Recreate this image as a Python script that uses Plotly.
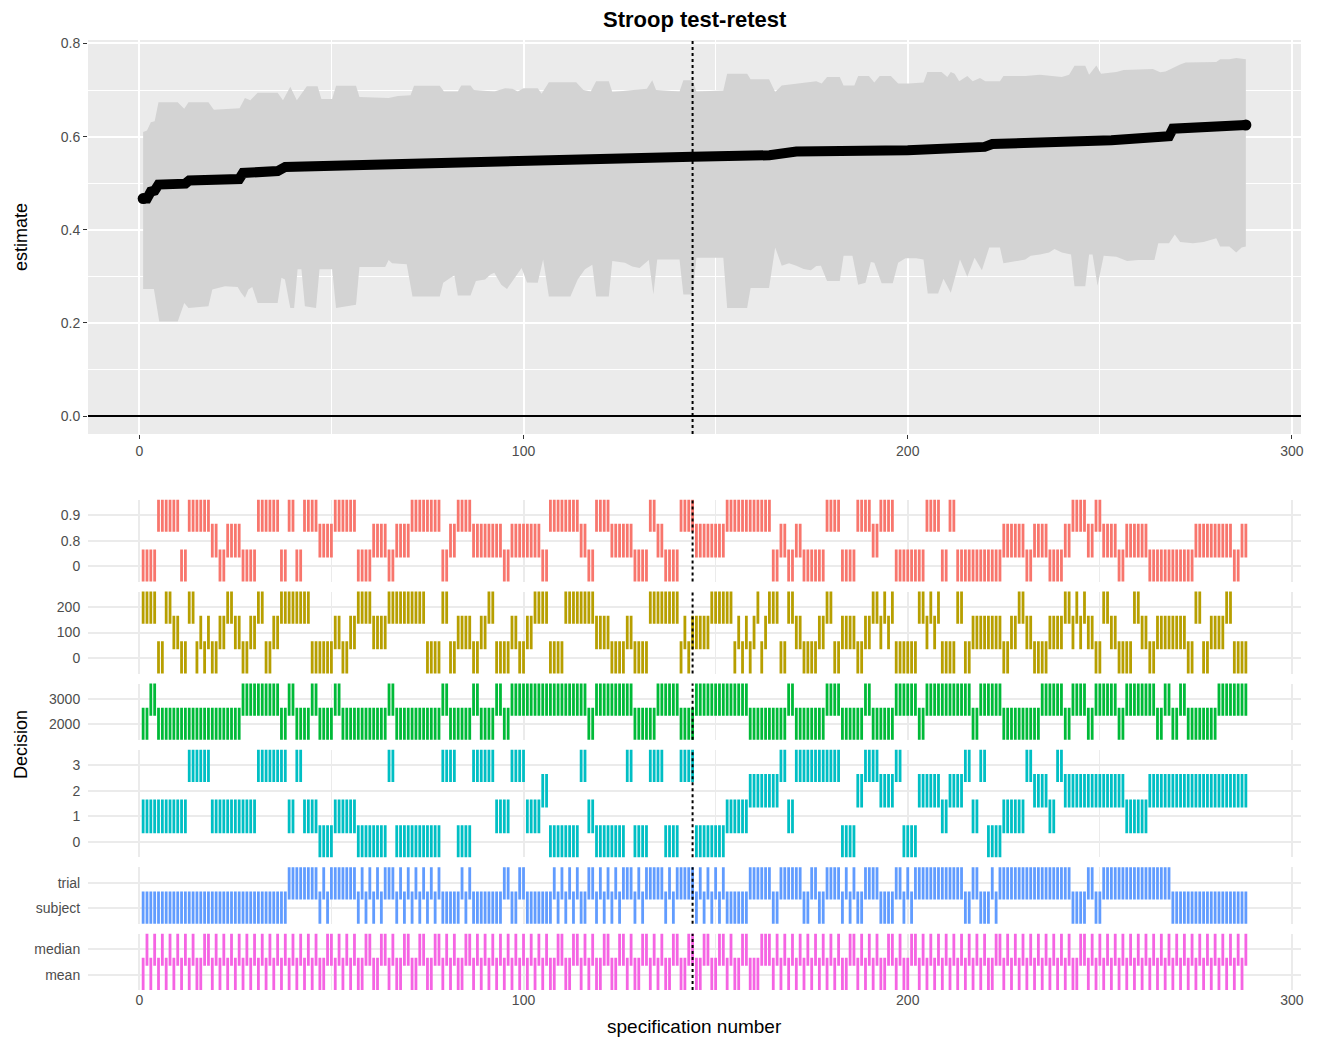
import plotly.graph_objects as go

# ---------------- data ----------------
SPEC_N = 288
DIVIDER_SPEC = 144.0

# estimate (sorted) at the spec numbers where the curve changes slope
est_spec = [1, 2, 3, 4, 5, 12, 13, 26, 27, 36, 38, 56, 58, 75, 92, 102, 130, 144,
            164, 171, 200, 212, 220, 222, 236, 253, 266, 268, 269, 280, 282, 288]
est_val = [0.467, 0.467, 0.482, 0.484, 0.497, 0.499, 0.506, 0.509, 0.522, 0.526,
           0.535, 0.539, 0.543, 0.545, 0.548, 0.551, 0.555, 0.557, 0.560, 0.568,
           0.571, 0.574, 0.578, 0.584, 0.586, 0.592, 0.600, 0.601, 0.617, 0.621,
           0.625, 0.625]

# confidence band, upper edge
upper_spec = [1, 2, 3, 4, 5, 10, 11.7, 12.8, 18, 19.4, 26.1, 27.5, 28.9, 30.8, 36, 37.4,
              39.3, 41, 43.6, 46.4, 47.4, 50.2, 51.2, 56.4, 57.3, 64.9, 67.3, 70.6, 71.5,
              78.2, 79.3, 82.9, 83.8, 86.2, 87.1, 92.4, 95.2, 97.1, 98.5, 100, 103.7,
              104.7, 106.6, 113.7, 115.6, 117.5, 118.9, 122.2, 123.1, 130.2, 132.1, 133.5,
              134.5, 140.6, 141.6, 144, 145, 152, 153, 158.2, 159.1, 163.9, 165.5, 167.2,
              171.9, 176.2, 177.6, 179, 182.3, 183.3, 186.1, 187.1, 189.9, 191.3, 192.7,
              195.6, 197.5, 200.3, 204.1, 205.1, 208.8, 210.3, 211.2, 212.2, 213.4, 215.5,
              216.9, 218.8, 220.2, 224, 224.9, 230.6, 234.4, 238.2, 240.1, 242, 243.4,
              246.2, 247.2, 249.1, 250.3, 254.3, 256.2, 263.8, 265.7, 267.1, 269, 270.9,
              272.3, 280.3, 281.3, 283.7, 285.5, 288]
upper_val = [0.610, 0.613, 0.631, 0.633, 0.674, 0.674, 0.660, 0.674, 0.674, 0.658, 0.661,
             0.683, 0.678, 0.694, 0.694, 0.678, 0.707, 0.678, 0.708, 0.708, 0.681, 0.681,
             0.709, 0.709, 0.685, 0.683, 0.687, 0.689, 0.709, 0.709, 0.697, 0.697, 0.710,
             0.710, 0.700, 0.697, 0.704, 0.703, 0.697, 0.704, 0.704, 0.692, 0.717, 0.717,
             0.700, 0.697, 0.719, 0.719, 0.696, 0.702, 0.703, 0.721, 0.700, 0.697, 0.721,
             0.721, 0.697, 0.699, 0.735, 0.735, 0.723, 0.723, 0.696, 0.710, 0.714, 0.719,
             0.714, 0.728, 0.728, 0.710, 0.710, 0.730, 0.730, 0.716, 0.730, 0.730, 0.714,
             0.714, 0.716, 0.739, 0.739, 0.728, 0.739, 0.735, 0.719, 0.730, 0.719, 0.726,
             0.719, 0.719, 0.730, 0.730, 0.733, 0.730, 0.728, 0.733, 0.752, 0.752, 0.733,
             0.753, 0.735, 0.739, 0.743, 0.745, 0.738, 0.740, 0.748, 0.755, 0.759, 0.760,
             0.766, 0.766, 0.769, 0.766]

# confidence band, lower edge
lower_spec = [1, 3.8, 5.2, 10, 11.7, 12.8, 18, 19, 22.3, 25.6, 26.5, 27.5, 28.4, 29.4, 30.8,
              36, 37, 37.9, 39.3, 40.3, 41.2, 42.2, 43.1, 46, 46.9, 50.2, 51.2, 56.4, 57.3,
              64, 64.9, 65.8, 69.6, 71.1, 78.2, 79.1, 81, 82, 82.9, 86.2, 87.6, 90, 91.4,
              92.4, 94.2, 95.7, 97.1, 99.5, 100.9, 103.7, 105.1, 106.6, 112.2, 114.1, 116,
              117.9, 118.9, 122.2, 123.1, 126.4, 128.3, 130.2, 132.6, 133.8, 134.8, 140.6,
              141.6, 144, 145, 152, 153, 158.2, 159.1, 163.9, 165.5, 167.2, 169.1, 171,
              172.9, 174.8, 176.2, 177.4, 179, 182.3, 183.3, 185.6, 187.1, 189, 190.4,
              191.3, 193.2, 196.1, 197.5, 199.4, 202.2, 204.1, 205.2, 207.9, 209.3, 211.2,
              213.6, 215.5, 217.4, 219.3, 221.2, 224, 224.9, 226.8, 230.6, 232, 234.4,
              236.8, 238.2, 240.1, 242.5, 243.4, 246.2, 247.2, 248.1, 249.4, 251, 254.3,
              257.1, 260, 264.2, 265.2, 268, 269.5, 270.9, 274.2, 277, 280.3, 281.3, 283.7,
              285.5, 286.9, 288]
lower_val = [0.273, 0.273, 0.203, 0.203, 0.243, 0.232, 0.236, 0.272, 0.279, 0.277, 0.265,
             0.254, 0.272, 0.277, 0.243, 0.243, 0.297, 0.293, 0.232, 0.232, 0.315, 0.315,
             0.236, 0.232, 0.315, 0.315, 0.232, 0.239, 0.320, 0.320, 0.335, 0.328, 0.326,
             0.257, 0.257, 0.286, 0.297, 0.302, 0.259, 0.259, 0.290, 0.293, 0.304, 0.308,
             0.282, 0.273, 0.290, 0.318, 0.287, 0.286, 0.336, 0.257, 0.257, 0.293, 0.315,
             0.325, 0.257, 0.257, 0.333, 0.329, 0.321, 0.318, 0.335, 0.261, 0.336, 0.336,
             0.261, 0.261, 0.340, 0.340, 0.232, 0.232, 0.275, 0.275, 0.362, 0.323, 0.328,
             0.323, 0.316, 0.313, 0.322, 0.323, 0.290, 0.290, 0.344, 0.344, 0.282, 0.286,
             0.331, 0.329, 0.285, 0.285, 0.329, 0.339, 0.339, 0.336, 0.263, 0.263, 0.295,
             0.265, 0.336, 0.299, 0.340, 0.313, 0.362, 0.362, 0.328, 0.331, 0.336, 0.344,
             0.347, 0.351, 0.359, 0.351, 0.347, 0.279, 0.279, 0.347, 0.347, 0.280, 0.344,
             0.342, 0.333, 0.335, 0.335, 0.371, 0.371, 0.390, 0.374, 0.371, 0.374, 0.382,
             0.364, 0.364, 0.351, 0.362, 0.364]

# decision panels: level labels (bottom to top) and runs of (level index, number of specs)
rt_cut_levels = ["0", "0.8", "0.9"]
rt_cut_runs = [(0, 4), (2, 6), (0, 2), (2, 6), (1, 2), (0, 2), (1, 4), (0, 4), (2, 6), (0, 2),
               (2, 2), (0, 2), (2, 4), (1, 4), (2, 6), (0, 4), (1, 4), (0, 2), (1, 4), (2, 8),
               (0, 2), (1, 2), (2, 4), (1, 8), (0, 2), (1, 8), (0, 2), (2, 8), (1, 2), (0, 2),
               (2, 4), (1, 6), (0, 4), (2, 2), (1, 2), (0, 4), (2, 4), (1, 8), (2, 12), (0, 2),
               (1, 2), (0, 2), (1, 2), (0, 6), (2, 4), (0, 4), (2, 4), (1, 2), (2, 4), (0, 8),
               (2, 4), (0, 2), (2, 2), (0, 12), (1, 6), (0, 2), (1, 4), (0, 4), (1, 2), (2, 4),
               (1, 2), (2, 2), (1, 4), (0, 2), (1, 6), (0, 12), (1, 10), (0, 2), (1, 2)]

min_rt_levels = ["0", "100", "200"]
min_rt_runs = [(2, 4), (0, 2), (2, 2), (1, 2), (0, 2), (2, 2), (0, 1), (1, 1), (0, 1), (1, 1),
               (0, 2), (1, 2), (2, 2), (1, 2), (0, 2), (1, 2), (2, 2), (0, 2), (1, 2), (2, 8),
               (0, 6), (1, 2), (0, 2), (1, 2), (2, 4), (1, 4), (2, 10), (0, 4), (2, 2), (0, 2),
               (1, 4), (0, 2), (1, 2), (2, 2), (0, 4), (1, 2), (0, 2), (1, 2), (2, 4), (0, 4),
               (2, 8), (1, 4), (0, 4), (1, 2), (0, 4), (2, 8), (0, 1), (1, 1), (0, 1), (1, 5),
               (2, 6), (0, 1), (1, 1), (0, 1), (1, 1), (0, 1), (1, 1), (2, 1), (0, 1), (1, 1),
               (2, 3), (0, 2), (2, 2), (1, 2), (0, 4), (1, 2), (2, 2), (0, 2), (1, 4), (0, 2),
               (1, 2), (2, 2), (1, 1), (2, 1), (1, 1), (2, 1), (0, 6), (2, 2), (1, 1), (2, 1),
               (1, 1), (2, 1), (0, 4), (2, 2), (0, 2), (1, 8), (0, 2), (1, 2), (2, 2), (1, 2),
               (0, 4), (1, 4), (2, 2), (1, 1), (2, 1), (1, 1), (2, 1), (1, 2), (0, 2), (2, 2),
               (1, 2), (0, 4), (2, 2), (1, 2), (0, 2), (1, 8), (0, 2), (2, 2), (0, 2), (1, 4),
               (2, 2), (0, 4)]

max_rt_levels = ["2000", "3000"]
max_rt_runs = [(0, 2), (1, 2), (0, 22), (1, 10), (0, 2), (1, 2), (0, 4), (1, 2), (0, 4), (1, 2),
               (0, 12), (1, 2), (0, 12), (1, 2), (0, 6), (1, 2), (0, 4), (1, 2), (0, 2), (1, 20),
               (0, 2), (1, 10), (0, 6), (1, 6), (0, 4), (1, 14), (0, 10), (1, 2), (0, 8), (1, 4),
               (0, 6), (1, 2), (0, 6), (1, 6), (0, 2), (1, 12), (0, 2), (1, 6), (0, 10), (1, 6),
               (0, 2), (1, 4), (0, 2), (1, 6), (0, 2), (1, 8), (0, 2), (1, 2), (0, 2), (1, 2),
               (0, 8), (1, 8)]

sd_levels = ["0", "1", "2", "3"]
sd_runs = [(1, 12), (3, 6), (1, 12), (3, 8), (1, 2), (3, 2), (1, 4), (0, 4), (1, 6), (0, 8),
           (3, 2), (0, 12), (3, 4), (0, 4), (3, 6), (1, 4), (3, 4), (1, 4), (2, 2), (0, 8),
           (3, 2), (1, 2), (0, 8), (3, 2), (0, 4), (3, 4), (0, 4), (3, 4), (0, 8), (1, 6),
           (2, 8), (3, 2), (1, 2), (3, 12), (0, 4), (2, 2), (3, 4), (2, 4), (3, 2), (0, 4),
           (2, 6), (1, 2), (2, 4), (3, 2), (1, 2), (3, 2), (0, 4), (1, 6), (3, 2), (2, 4),
           (1, 2), (3, 2), (2, 16), (1, 6), (2, 26)]

level_levels = ["subject", "trial"]
level_runs = [(0, 38), (1, 8), (0, 1), (1, 1), (0, 1), (1, 7), (0, 1), (1, 1), (0, 1), (1, 1),
              (0, 1), (1, 1), (0, 1), (1, 3), (0, 1), (1, 1), (0, 1), (1, 1), (0, 1), (1, 1),
              (0, 1), (1, 1), (0, 1), (1, 1), (0, 1), (1, 1), (0, 5), (1, 1), (0, 1), (1, 1),
              (0, 8), (1, 2), (0, 2), (1, 2), (0, 7), (1, 1), (0, 1), (1, 1), (0, 1), (1, 1),
              (0, 1), (1, 1), (0, 2), (1, 2), (0, 1), (1, 1), (0, 1), (1, 1), (0, 1), (1, 1),
              (0, 1), (1, 3), (0, 1), (1, 1), (0, 1), (1, 5), (0, 1), (1, 1), (0, 1), (1, 5),
              (0, 1), (1, 1), (0, 1), (1, 1), (0, 1), (1, 1), (0, 1), (1, 1), (0, 6), (1, 6),
              (0, 2), (1, 6), (0, 2), (1, 2), (0, 2), (1, 4), (0, 1), (1, 1), (0, 1), (1, 1),
              (0, 2), (1, 4), (0, 4), (1, 2), (0, 1), (1, 1), (0, 1), (1, 13), (0, 2), (1, 2),
              (0, 3), (1, 1), (0, 1), (1, 19), (0, 4), (1, 2), (0, 2), (1, 18), (0, 20)]

agg_levels = ["mean", "median"]
median_specs = [2, 4, 6, 8, 10, 12, 14, 17, 18, 20, 22, 24, 26, 28, 30, 32, 34, 36, 38, 40,
                42, 44, 46, 49, 50, 52, 54, 56, 59, 60, 63, 64, 66, 69, 70, 73, 74, 77, 78, 80,
                82, 85, 86, 88, 90, 92, 94, 96, 98, 100, 102, 104, 106, 109, 110, 113, 114,
                116, 118, 121, 122, 125, 126, 128, 131, 132, 134, 136, 139, 140, 143, 144,
                147, 148, 151, 152, 154, 157, 158, 162, 163, 164, 166, 168, 170, 172, 174,
                176, 178, 180, 182, 185, 186, 188, 190, 192, 195, 196, 198, 201, 202, 204,
                206, 208, 210, 212, 214, 216, 218, 220, 223, 224, 226, 228, 230, 232, 234,
                236, 238, 240, 242, 245, 246, 248, 250, 252, 254, 256, 258, 260, 262, 264,
                266, 268, 270, 272, 274, 276, 278, 280, 282, 284, 286, 288]

PANEL_COLORS = ["#F8766D", "#B79F00", "#00BA38", "#00BFC4", "#619CFF", "#F564E3"]


def expand(runs):
    out = []
    for lvl, n in runs:
        out += [lvl] * n
    return out


specs = list(range(1, SPEC_N + 1))
agg_idx = [1 if s in median_specs else 0 for s in specs]

panels = [
    (rt_cut_levels, expand(rt_cut_runs)),
    (min_rt_levels, expand(min_rt_runs)),
    (max_rt_levels, expand(max_rt_runs)),
    (sd_levels, expand(sd_runs)),
    (level_levels, expand(level_runs)),
    (agg_levels, agg_idx),
]

# ---------------- layout geometry ----------------
# the page body has an 8px margin, so the figure is shrunk by that much
PAGE_OFF = 8
W, H = 1323 - PAGE_OFF, 1039 - PAGE_OFF
PLOT_LEFT, PLOT_RIGHT, PLOT_TOP, PLOT_BOTTOM = 88, 1301, 40, 990   # in screenshot pixels
ML = PLOT_LEFT - PAGE_OFF
MT = PLOT_TOP - PAGE_OFF
MR = W - (PLOT_RIGHT - PAGE_OFF)
MB = H - (PLOT_BOTTOM - PAGE_OFF)
PLOT_H = PLOT_BOTTOM - PLOT_TOP
PLOT_W = PLOT_RIGHT - PLOT_LEFT
LEVEL_PX = 25.6
GAP_PX = 10
X_RANGE = [-13.35, 302.35]


def py(y_px):
    return (PLOT_BOTTOM - y_px) / PLOT_H


def px(x_px):
    return (x_px - PLOT_LEFT) / PLOT_W


FONT = "Liberation Sans, Arial, sans-serif"
tick_font = dict(family=FONT, size=14, color="#4D4D4D")
title_font = dict(family=FONT, size=19, color="black")
side_font = dict(family=FONT, size=18, color="black")

fig = go.Figure()

# ---- top panel: band + estimate ----
fig.add_trace(go.Scatter(
    x=upper_spec + lower_spec[::-1],
    y=upper_val + lower_val[::-1],
    fill="toself", fillcolor="#D3D3D3", mode="lines",
    line=dict(width=0, color="#D3D3D3"),
    hoverinfo="skip", showlegend=False, xaxis="x", yaxis="y",
))
fig.add_trace(go.Scatter(
    x=est_spec, y=est_val, mode="lines",
    line=dict(color="black", width=10),
    hoverinfo="skip", showlegend=False, xaxis="x", yaxis="y",
))
fig.add_trace(go.Scatter(
    x=[est_spec[0], est_spec[-1]], y=[est_val[0], est_val[-1]], mode="markers",
    marker=dict(color="black", size=11),
    hoverinfo="skip", showlegend=False, xaxis="x", yaxis="y",
))

layout = dict(
    width=W, height=H,
    margin=dict(l=ML, r=MR, t=MT, b=MB),
    paper_bgcolor="white", plot_bgcolor="rgba(0,0,0,0)",
    showlegend=False,
    font=dict(family=FONT, color="#4D4D4D"),
    xaxis=dict(domain=[0, 1], anchor="y", range=X_RANGE,
               tickvals=[0, 100, 200, 300], tickfont=tick_font,
               showgrid=True, gridcolor="white", gridwidth=2,
               minor=dict(tickvals=[50, 150, 250], showgrid=True, gridcolor="white", gridwidth=1),
               ticks="outside", ticklen=4, tickcolor="#333333", tickwidth=1.2,
               zeroline=False, showline=False),
    yaxis=dict(domain=[py(434), 1], anchor="x", range=[-0.0385, 0.8075],
               tickvals=[0, 0.2, 0.4, 0.6, 0.8],
               ticktext=["0.0", "0.2", "0.4", "0.6", "0.8"], tickfont=tick_font,
               showgrid=True, gridcolor="white", gridwidth=2,
               minor=dict(tickvals=[0.1, 0.3, 0.5, 0.7], showgrid=True, gridcolor="white", gridwidth=1),
               ticks="outside", ticklen=4, tickcolor="#333333", tickwidth=1.2,
               zeroline=False, showline=False),
)

shapes = [
    dict(type="rect", xref="x domain", yref="y domain", x0=0, x1=1, y0=0, y1=1,
         fillcolor="#EBEBEB", line=dict(width=0), layer="below"),
    dict(type="line", xref="x domain", yref="y", x0=0, x1=1, y0=0, y1=0,
         line=dict(color="black", width=2)),
    dict(type="line", xref="x", yref="y domain", x0=DIVIDER_SPEC, x1=DIVIDER_SPEC, y0=0, y1=1,
         line=dict(color="black", width=2, dash="dot")),
]

# ---- bottom panels: decision indicators ----
total_px = sum((len(lv) + 0.2) * LEVEL_PX for lv, _ in panels) + GAP_PX * (len(panels) - 1)
top_px = PLOT_BOTTOM - total_px
for i, (levels, idx) in enumerate(panels):
    k = i + 2
    n = len(levels)
    h_px = (n + 0.2) * LEVEL_PX
    dom = [max(py(top_px + h_px), 0), py(top_px)]
    top_px += h_px + GAP_PX
    last = i == len(panels) - 1

    fig.add_trace(go.Scatter(
        x=specs, y=idx, mode="markers",
        marker=dict(symbol="line-ns", size=24, color=PANEL_COLORS[i],
                    line=dict(color=PANEL_COLORS[i], width=2.8)),
        hoverinfo="skip", showlegend=False, xaxis=f"x{k}", yaxis=f"y{k}",
    ))
    layout[f"xaxis{k}"] = dict(
        domain=[0, 1], anchor=f"y{k}", range=X_RANGE,
        tickvals=[0, 100, 200, 300], showticklabels=last, tickfont=tick_font,
        showgrid=True, gridcolor="#EBEBEB", gridwidth=1.6,
        minor=dict(tickvals=[50, 150, 250], showgrid=True, gridcolor="#EBEBEB", gridwidth=0.9),
        ticks="", zeroline=False, showline=False,
    )
    layout[f"yaxis{k}"] = dict(
        domain=dom, anchor=f"x{k}", range=[-0.6, n - 0.4],
        tickvals=list(range(n)), ticktext=levels, tickfont=tick_font,
        showgrid=True, gridcolor="#EBEBEB", gridwidth=1.6,
        ticks="outside", ticklen=4, tickcolor="rgba(0,0,0,0)",
        zeroline=False, showline=False,
    )
    shapes.append(dict(type="line", xref=f"x{k}", yref=f"y{k} domain",
                       x0=DIVIDER_SPEC, x1=DIVIDER_SPEC, y0=0, y1=1,
                       line=dict(color="black", width=2, dash="dot")))

layout["shapes"] = shapes
layout["annotations"] = [
    dict(text="<b>Stroop test-retest</b>", xref="paper", yref="paper", x=0.5, y=py(19),
         showarrow=False, xanchor="center", yanchor="middle",
         font=dict(family=FONT, size=22, color="black")),
    dict(text="estimate", xref="paper", yref="paper", x=px(PAGE_OFF + 1), y=py(237),
         showarrow=False, textangle=-90, xanchor="left", yanchor="middle", font=side_font),
    dict(text="Decision", xref="paper", yref="paper", x=px(PAGE_OFF + 1), y=py(745),
         showarrow=False, textangle=-90, xanchor="left", yanchor="middle", font=side_font),
    dict(text="specification number", xref="paper", yref="paper", x=0.5, y=py(1026),
         showarrow=False, xanchor="center", yanchor="middle", font=title_font),
]

fig.update_layout(**layout)
fig.write_html("out.html")
